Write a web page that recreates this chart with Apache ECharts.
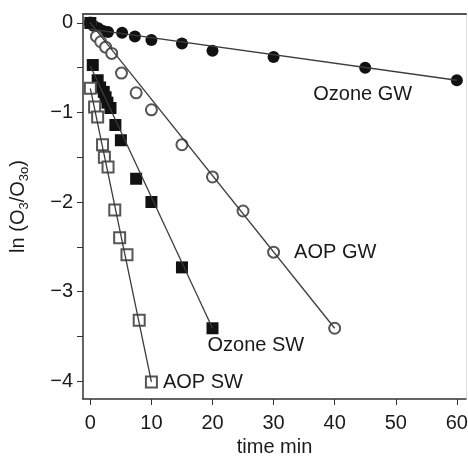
<!DOCTYPE html>
<html>
<head>
<meta charset="utf-8">
<script src="https://cdn.jsdelivr.net/npm/echarts@6/dist/echarts.min.js"></script>
<style>
  html, body { margin: 0; padding: 0; background: #fff; }
  #chart { width: 468px; height: 457px; }
</style>
</head>
<body>
<div id="chart"></div>
<script>
// measured points [time min, ln(O3/O3o)]
const ozoneGW = [[0, 0], [0.5, -0.03], [1.3, -0.06], [2.1, -0.09], [2.9, -0.1], [5.2, -0.11], [7.3, -0.15],
  [10, -0.19], [15, -0.23], [20, -0.31], [30, -0.38], [45, -0.5], [60, -0.64]];
const aopGW = [[0, 0], [1, -0.15], [1.7, -0.21], [2.5, -0.27], [3.5, -0.34], [5.1, -0.56], [7.5, -0.78],
  [10, -0.97], [15, -1.36], [20, -1.72], [25, -2.1], [30, -2.56], [40, -3.41]];
const ozoneSW = [[0, 0], [0.4, -0.47], [1.2, -0.64], [1.6, -0.72], [2.2, -0.77], [2.5, -0.83], [2.8, -0.89],
  [3.3, -0.95], [4.1, -1.14], [5, -1.31], [7.5, -1.74], [10, -2.0], [15, -2.73], [20, -3.41]];
const aopSW = [[0, -0.73], [0.7, -0.94], [1.2, -1.05], [2, -1.36], [2.3, -1.5], [2.9, -1.61], [4, -2.09],
  [4.8, -2.4], [6, -2.59], [8, -3.32], [10, -4.01]];

// fitted lines (end points)
const ozoneGWFit = [[0, -0.07], [60, -0.64]];
const aopGWFit = [[0, 0], [40, -3.41]];
const ozoneSWFit = [[0, -0.48], [20, -3.41]];
const aopSWFit = [[0, -0.73], [10, -4.01]];

const xTicks = [0, 10, 20, 30, 40, 50, 60];
const yTicks = [0, -0.5, -1, -1.5, -2, -2.5, -3, -3.5, -4];
const yLabels = [0, -1, -2, -3, -4];

// which point carries the series name, and where
const seriesLabels = [
  { name: 'Ozone GW', at: 11, offset: [-63, 27], dist: 5 },
  { name: 'AOP GW', at: 11, offset: [0, 0], dist: 14 },
  { name: 'Ozone SW', at: 13, offset: [-16, 17], dist: 5 },
  { name: 'AOP SW', at: 10, offset: [0, 0], dist: 5 }
];

const font = 'Liberation Sans, Arial, sans-serif';
const ink = '#1a1a1a';
const minus = (v) => String(v).replace('-', '\u2212');

function withLabel(data, idx) {
  const lab = seriesLabels[idx];
  return data.map((p, i) => i === lab.at ? {
    value: p,
    label: {
      show: true, formatter: lab.name, position: 'right', distance: lab.dist, offset: lab.offset,
      color: ink, fontSize: 20, fontFamily: font
    }
  } : p);
}

function pts(name, data, idx, symbol, size, filled) {
  return {
    name, type: 'scatter', data: withLabel(data, idx), symbol, symbolSize: size, z: 2,
    itemStyle: filled ? { color: '#111', opacity: 1 } : { color: '#555', borderWidth: 1.1, opacity: 1 }
  };
}

function fit(data) {
  return {
    type: 'line', data, symbol: 'none', silent: true, z: 3,
    lineStyle: { color: '#3c3c3c', width: 1.3 }
  };
}

// bare frame lines for the top and right edges
const frame = (color, width) => ({
  type: 'value', min: 'dataMin', max: 'dataMax', show: true,
  axisLine: { show: true, onZero: false, lineStyle: { color, width } },
  axisTick: { show: false }, axisLabel: { show: false }, splitLine: { show: false }
});

const chart = echarts.init(document.getElementById('chart'));
chart.setOption({
  animation: false,
  grid: { left: 83, top: 14, right: 2, bottom: 58, outerBoundsMode: 'none', containLabel: false },
  xAxis: [{
    type: 'value', min: -1.2, max: 61.5,
    name: 'time min', nameLocation: 'middle', nameGap: 36,
    nameTextStyle: { color: ink, fontSize: 20, fontFamily: font },
    splitLine: { show: false },
    axisLine: { show: true, onZero: false, lineStyle: { color: '#333', width: 1.5 } },
    axisTick: { show: true, length: 6, customValues: xTicks, lineStyle: { color: '#333' } },
    axisLabel: { customValues: xTicks, margin: 14, color: ink, fontSize: 20, fontFamily: font }
  }, Object.assign(frame('#555', 2.2), { position: 'top', min: -1.2, max: 61.5 })],
  yAxis: [{
    type: 'value', min: -4.2, max: 0.1,
    name: '{a|ln (O}{s|3}{a|/O}{s|3o}{a|)}', nameLocation: 'middle', nameGap: 52,
    nameTextStyle: {
      color: ink, fontFamily: font,
      rich: {
        a: { fontSize: 20, lineHeight: 26, fontFamily: font, color: ink },
        s: { fontSize: 13, lineHeight: 26, fontFamily: font, color: ink, verticalAlign: 'bottom', padding: [9, 0, 0, 0] }
      }
    },
    splitLine: { show: false },
    axisLine: { show: true, onZero: false, lineStyle: { color: '#333', width: 1.5 } },
    axisTick: { show: true, length: 6, customValues: yTicks, lineStyle: { color: '#333' } },
    axisLabel: { customValues: yLabels, margin: 10, color: ink, fontSize: 20, fontFamily: font, formatter: minus }
  }, Object.assign(frame('#dcdcdc', 1), { position: 'right', min: -4.2, max: 0.1 })],
  series: [
    pts('Ozone GW', ozoneGW, 0, 'circle', 12, true),
    pts('AOP GW', aopGW, 1, 'emptyCircle', 11, false),
    pts('Ozone SW', ozoneSW, 2, 'rect', 12, true),
    pts('AOP SW', aopSW, 3, 'emptyRect', 11, false),
    fit(ozoneGWFit), fit(aopGWFit), fit(ozoneSWFit), fit(aopSWFit)
  ]
});
</script>
</body>
</html>
